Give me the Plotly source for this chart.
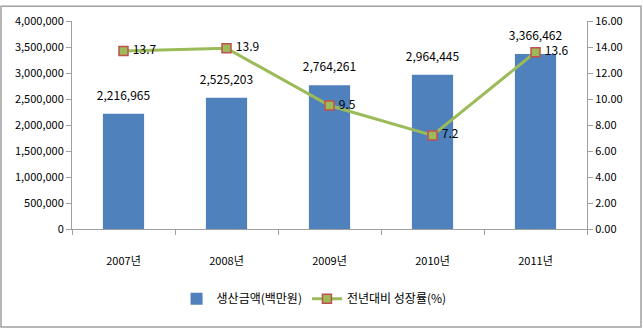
import plotly.graph_objects as go

years = ["2007년", "2008년", "2009년", "2010년", "2011년"]
production = [2216965, 2525203, 2764261, 2964445, 3366462]
growth = [13.7, 13.9, 9.5, 7.2, 13.6]
bar_name = "생산금액(백만원)"
line_name = "전년대비 성장률(%)"

FONT = "Noto Sans CJK KR"

fig = go.Figure()
fig.add_trace(go.Bar(
    x=years, y=production, name=bar_name,
    marker=dict(color="#4F81BD", line=dict(width=0)),
    width=0.4,
))
# bar value labels
fig.add_trace(go.Scatter(
    x=years, y=production, mode="markers+text", showlegend=False, hoverinfo="skip",
    marker=dict(size=16, opacity=0),
    text=[f"{v:,}" for v in production], textposition="top center",
    textfont=dict(size=12, color="#000000", family=FONT),
    cliponaxis=False,
))
fig.add_trace(go.Scatter(
    x=years, y=growth, name=line_name, yaxis="y2", mode="lines+markers+text",
    line=dict(color="#9BBB59", width=3),
    marker=dict(symbol="square", size=9, color="#9BBB59",
                line=dict(color="#C0504D", width=1.5)),
    text=[f" {v:.1f}" for v in growth], textposition="middle right",
    textfont=dict(size=12, color="#000000", family=FONT),
    cliponaxis=False,
))

fig.update_layout(
    width=643, height=331,
    margin=dict(l=72, r=56, t=17, b=102),
    paper_bgcolor="white", plot_bgcolor="white",
    font=dict(family=FONT, size=11, color="#000000"),
    showlegend=True,
    legend=dict(orientation="h", x=0.47, xanchor="center", y=-0.335, yanchor="middle",
                font=dict(size=12, family=FONT), itemwidth=30, traceorder="normal"),
    xaxis=dict(showline=True, linecolor="#A0A0A0", linewidth=1,
               ticks="outside", tickson="boundaries", ticklen=5, tickcolor="#A0A0A0",
               ticklabelstandoff=22,
               tickfont=dict(size=11, family=FONT), showgrid=False),
    yaxis=dict(range=[0, 4000000], dtick=500000, tickformat=",",
               showline=True, linecolor="#A0A0A0", linewidth=1,
               ticks="outside", ticklen=5, tickcolor="#A0A0A0",
               showgrid=False, zeroline=False, tickfont=dict(size=11, family=FONT)),
    yaxis2=dict(range=[0, 16], dtick=2, tickformat=".2f", overlaying="y", side="right",
                showline=True, linecolor="#A0A0A0", linewidth=1,
                ticks="outside", ticklen=5, tickcolor="#A0A0A0",
                showgrid=False, zeroline=False, tickfont=dict(size=11, family=FONT)),
    shapes=[dict(type="rect", xref="paper", yref="paper",
                 x0=-71/515, x1=1+54/515, y0=-100/212, y1=1+15/212,
                 line=dict(color="#A0A0A0", width=1.5))],
)

fig.write_html("out.html")
